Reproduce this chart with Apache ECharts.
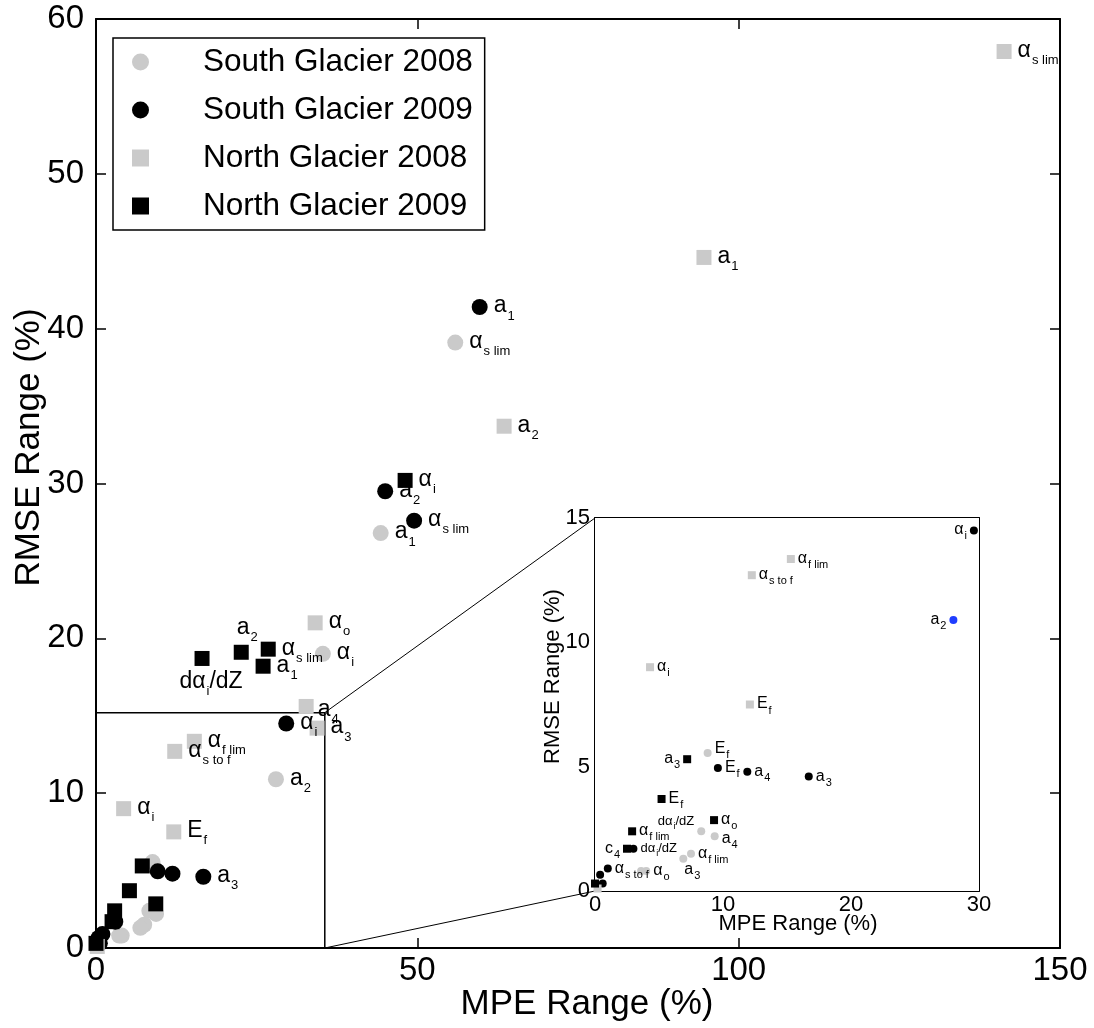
<!DOCTYPE html>
<html><head><meta charset="utf-8">
<script src="https://cdn.jsdelivr.net/npm/echarts@6/dist/echarts.min.js"></script>
<style>html,body{margin:0;padding:0;background:#fff}#c{width:1094px;height:1028px}</style>
</head><body><div id="c"></div>
<script>
// ---------- DATA (MPE range %, RMSE range %) ----------
// labels: "main|sub|main..." (odd parts are subscripts)
const seriesNames = ['South Glacier 2008', 'South Glacier 2009', 'North Glacier 2008', 'North Glacier 2009'];

const s08Names = ['α|s lim', 'a|1', 'α|i', 'a|2', 'E|f', 'dα|i|/dZ', 'a|4', 'α|f lim', 'a|3', 'α|o', 'α|s to f'];
const s08X     = [55.9, 44.3, 35.3, 28.0, 8.8, 8.3, 9.35, 7.5, 6.9, 4.0, 3.6];
const s08Y     = [39.1, 26.8, 19.0, 10.9, 5.55, 2.4, 2.2, 1.5, 1.3, 0.8, 0.8];

const s09Names = ['a|1', 'a|2', 'α|s lim', 'α|i', 'a|3', 'a|4', 'E|f', 'dα|i|/dZ', 'α|s to f', '', ' '];
const s09X     = [59.7, 45.0, 49.5, 29.6, 16.7, 11.9, 9.6, 3.0, 1.0, 0.4, 0.6];
const s09Y     = [41.4, 29.5, 27.6, 14.5, 4.6, 4.8, 4.95, 1.7, 0.9, 0.65, 0.3];

const n08Names = ['α|s lim', 'a|1', 'a|2', 'α|o', 'a|4', 'a|3', 'α|f lim', 'α|s to f', 'α|i', 'E|f', ''];
const n08X     = [141.3, 94.6, 63.5, 34.1, 32.7, 34.4, 15.3, 12.25, 4.3, 12.1, 0.2];
const n08Y     = [57.9, 44.6, 33.7, 21.0, 15.6, 14.2, 13.35, 12.7, 9.0, 7.5, 0.1];

const n09Names = ['α|i', 'α|s lim', 'a|2', 'a|1', 'dα|i|/dZ', 'a|3', 'E|f', 'α|o', 'α|f lim', 'c|4', ''];
const n09X     = [48.1, 26.8, 22.6, 26.0, 16.5, 7.2, 5.2, 9.3, 2.9, 2.5, 0.0];
const n09Y     = [30.2, 19.3, 19.1, 18.2, 18.7, 5.3, 3.7, 2.85, 2.4, 1.7, 0.3];

const mainXTicks = [0, 150, 50];   // min, max, interval
const mainYTicks = [0, 60, 10];
const insetXTicks = [0, 30, 5];
const insetYTicks = [0, 15, 5];
const zoomBoxX = 35.6, zoomBoxY = 15.2;   // extent of the zoom rectangle drawn on the main plot
const highlighted = {key: 'S08', name: 'a|2'}; // point shown in blue in the inset

// ---------- STYLE ----------
const FONT = "'Liberation Sans', Arial, Helvetica, sans-serif";
const GREY = '#cacaca';
const BLUE = '#1f3dff';
const groups = [
  {key: 'S08', names: s08Names, x: s08X, y: s08Y, symbol: 'circle', color: GREY},
  {key: 'S09', names: s09Names, x: s09X, y: s09Y, symbol: 'circle', color: '#000'},
  {key: 'N08', names: n08Names, x: n08X, y: n08Y, symbol: 'rect', color: GREY},
  {key: 'N09', names: n09Names, x: n09X, y: n09Y, symbol: 'rect', color: '#000'}
];
// label placement: [position, dx, dy, small]
const mainLbl = {
  S08: {'α|s lim': ['right'], 'a|1': ['right'], 'α|i': ['right'], 'a|2': ['right']},
  S09: {'a|1': ['right'], 'a|2': ['right'], 'α|s lim': ['right'], 'α|i': ['right'], 'a|3': ['right']},
  N08: {'α|s lim': ['right'], 'a|1': ['right'], 'a|2': ['right'], 'α|o': ['right'], 'a|4': ['right', -2, 4],
        'a|3': ['right'], 'α|f lim': ['right'], 'α|s to f': ['right'], 'α|i': ['right'], 'E|f': ['right']},
  N09: {'α|i': ['right'], 'α|s lim': ['right'], 'a|1': ['right'], 'a|2': ['top', 6, 2], 'dα|i|/dZ': ['bottom', 9, -2]}
};
const insetLbl = {
  S08: {'a|2': ['left'], 'E|f': ['right', 0, -4], 'dα|i|/dZ': ['left', 0, -9, true], 'a|4': ['right', 0, 3],
        'α|f lim': ['right'], 'a|3': ['right', -6, 11], 'α|o': ['right']},
  S09: {'α|i': ['left'], 'E|f': ['right'], 'a|4': ['right'], 'a|3': ['right'], 'dα|i|/dZ': ['right', 0, 0, true], 'α|s to f': ['right']},
  N08: {'α|f lim': ['right'], 'α|s to f': ['right'], 'α|i': ['right'], 'E|f': ['right']},
  N09: {'a|3': ['left'], 'E|f': ['right'], 'α|o': ['right'], 'α|f lim': ['right'], 'c|4': ['left']}
};

function richText(name, small) {
  const m = small ? 'dm' : 'm', s = small ? 'ds' : 's';
  return name.split('|').map((p, i) => '{' + (i % 2 === 0 ? m : s) + '|' + p + '}').join('');
}
const mainRich = {
  m: {fontSize: 23, fontFamily: FONT, color: '#000', verticalAlign: 'top', lineHeight: 25},
  s: {fontSize: 13, fontFamily: FONT, color: '#000', verticalAlign: 'top', lineHeight: 13, padding: [15, 0, 0, 1]}
};
const insetRich = {
  m: {fontSize: 16, fontFamily: FONT, color: '#000', verticalAlign: 'top', lineHeight: 17},
  s: {fontSize: 11, fontFamily: FONT, color: '#000', verticalAlign: 'top', lineHeight: 11, padding: [9, 0, 0, 1]},
  dm: {fontSize: 13, fontFamily: FONT, color: '#000', verticalAlign: 'top', lineHeight: 14},
  ds: {fontSize: 9, fontFamily: FONT, color: '#000', verticalAlign: 'top', lineHeight: 9, padding: [7, 0, 0, 1]}
};

function buildData(g, lblMap, inset) {
  const out = [];
  g.names.forEach((n, i) => {
    const x = g.x[i], y = g.y[i];
    if (inset && (x > insetXTicks[1] || y > insetYTicks[1])) return;
    const item = {name: n, value: [x, y]};
    const cfg = lblMap[g.key][n];
    if (cfg) {
      item.label = {show: true, position: cfg[0], distance: inset ? 3 : 6,
        offset: [cfg[1] || 0, cfg[2] || 0],
        formatter: richText(n, !!cfg[3]), rich: inset ? insetRich : mainRich};
    }
    if (inset && g.key === highlighted.key && n === highlighted.name) item.itemStyle = {color: BLUE};
    out.push(item);
  });
  return out;
}

const series = [];
groups.forEach((g, k) => {
  series.push({
    type: 'scatter', name: seriesNames[k], xAxisIndex: 0, yAxisIndex: 0,
    symbol: g.symbol, symbolSize: g.symbol === 'circle' ? 16 : 15,
    itemStyle: {color: g.color, opacity: 1}, label: {show: false}, emphasis: {disabled: true},
    data: buildData(g, mainLbl, false), z: 3
  });
});
groups.forEach((g, k) => {
  series.push({
    type: 'scatter', name: seriesNames[k], xAxisIndex: 2, yAxisIndex: 2,
    symbol: g.symbol, symbolSize: 8,
    itemStyle: {color: g.color, opacity: 1}, label: {show: false}, emphasis: {disabled: true},
    data: buildData(g, insetLbl, true), z: 6
  });
});

const axisLine = {show: true, onZero: false, lineStyle: {color: '#000', width: 2}};
function ax(gridIndex, pos, t, opts) {
  return Object.assign({
    type: 'value', gridIndex: gridIndex, position: pos, min: t[0], max: t[1], interval: t[2],
    axisLine: axisLine, axisTick: {show: true, inside: true, length: gridIndex === 0 ? 10 : 6, lineStyle: {color: '#000', width: 1.5}},
    splitLine: {show: false}, axisLabel: {show: false}, nameMoveOverlap: false
  }, opts || {});
}

const option = {
  backgroundColor: '#fff',
  animation: false,
  textStyle: {fontFamily: FONT},
  grid: [
    {left: 96, top: 19, width: 964, height: 929, show: false, containLabel: false, outerBoundsMode: 'none'},
    {left: 595, top: 518, width: 384, height: 373, show: true, backgroundColor: '#fff', borderWidth: 0, z: 5,
     containLabel: false, outerBoundsMode: 'none'}
  ],
  legend: {
    orient: 'vertical', left: 113, top: 38, data: seriesNames,
    itemWidth: 17, itemHeight: 17, itemGap: 16,
    padding: [8, 12, 8, 19],
    borderColor: '#000', borderWidth: 1.5, backgroundColor: '#fff',
    textStyle: {fontSize: 31.5, fontFamily: FONT, color: '#000', lineHeight: 31, padding: [0, 0, 0, 49]},
    selectedMode: false, z: 10
  },
  xAxis: [
    ax(0, 'bottom', mainXTicks, {axisLabel: {show: true, fontSize: 33, color: '#000', margin: 6, fontFamily: FONT},
      name: 'MPE Range (%)', nameLocation: 'middle', nameGap: 39,
      nameTextStyle: {fontSize: 35, color: '#000', fontFamily: FONT, padding: [0, 0, 0, 18]}}),
    ax(0, 'top', mainXTicks),
    ax(1, 'bottom', insetXTicks, {axisLabel: {show: true, fontSize: 22, color: '#000', margin: 3, fontFamily: FONT,
      formatter: v => (v % 10 === 0 ? String(v) : '')},
      name: 'MPE Range (%)', nameLocation: 'middle', nameGap: 22,
      nameTextStyle: {fontSize: 22, color: '#000', fontFamily: FONT, padding: [0, 0, 0, 22]}}),
    ax(1, 'top', insetXTicks)
  ],
  yAxis: [
    ax(0, 'left', mainYTicks, {axisLabel: {show: true, fontSize: 33, color: '#000', margin: 12, fontFamily: FONT},
      name: 'RMSE Range (%)', nameLocation: 'middle', nameGap: 49,
      nameTextStyle: {fontSize: 35, color: '#000', fontFamily: FONT, padding: [0, 0, 0, 72]}}),
    ax(0, 'right', mainYTicks),
    ax(1, 'left', insetYTicks, {axisLabel: {show: true, fontSize: 22, color: '#000', margin: 5, fontFamily: FONT},
      name: 'RMSE Range (%)', nameLocation: 'middle', nameGap: 31,
      nameTextStyle: {fontSize: 22, color: '#000', fontFamily: FONT, padding: [0, 0, 0, 56]}}),
    ax(1, 'right', insetYTicks)
  ],
  series: series
};

const chart = echarts.init(document.getElementById('c'), null, {renderer: 'canvas'});
chart.setOption(option);

// zoom rectangle and connector lines (positions from the axes)
const pTop = chart.convertToPixel({xAxisIndex: 0, yAxisIndex: 0}, [zoomBoxX, zoomBoxY]);
const pBot = chart.convertToPixel({xAxisIndex: 0, yAxisIndex: 0}, [zoomBoxX, 0]);
const pLeft = chart.convertToPixel({xAxisIndex: 0, yAxisIndex: 0}, [0, zoomBoxY]);
const qTop = chart.convertToPixel({xAxisIndex: 2, yAxisIndex: 2}, [insetXTicks[0], insetYTicks[1]]);
const qBot = chart.convertToPixel({xAxisIndex: 2, yAxisIndex: 2}, [insetXTicks[0], insetYTicks[0]]);
chart.setOption({
  graphic: [
    {type: 'polyline', z: 2, shape: {points: [pLeft, pTop, pBot]}, style: {stroke: '#000', lineWidth: 1.5, fill: null}},
    {type: 'line', z: 2, shape: {x1: pTop[0], y1: pTop[1], x2: qTop[0], y2: qTop[1]}, style: {stroke: '#000', lineWidth: 1}},
    {type: 'line', z: 2, shape: {x1: pBot[0], y1: pBot[1], x2: qBot[0], y2: qBot[1]}, style: {stroke: '#000', lineWidth: 1}}
  ]
});
</script>
</body></html>
